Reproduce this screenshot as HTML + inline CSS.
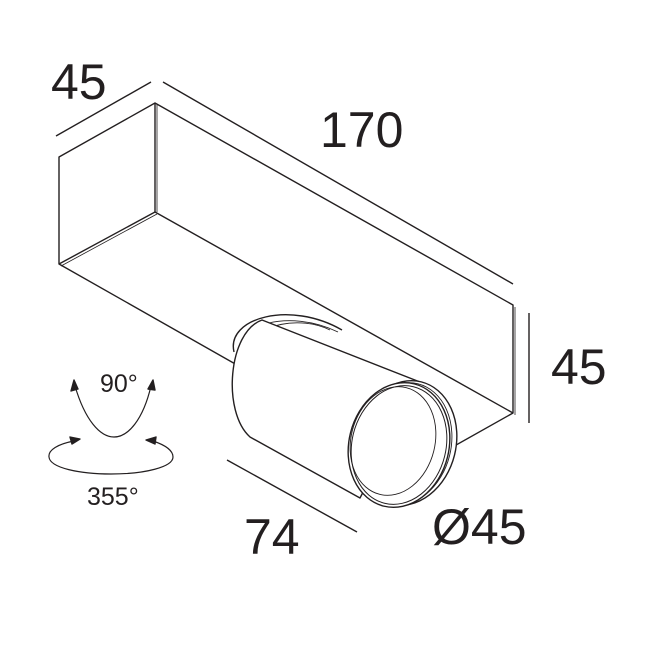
<!DOCTYPE html>
<html><head><style>
html,body{margin:0;padding:0;background:#fff;}
svg{display:block}
text{font-family:"Liberation Sans",Arial,sans-serif;fill:#231f20}
</style></head><body>
<svg width="650" height="650" viewBox="0 0 650 650" xmlns="http://www.w3.org/2000/svg">
<g fill="none" stroke="#231f20" stroke-width="1.4" stroke-linejoin="round">
<line x1="56" y1="136" x2="151" y2="82"/>
<line x1="163" y1="82" x2="513" y2="284"/>
<line x1="529" y1="313" x2="529" y2="423"/>
<line x1="227" y1="460" x2="357" y2="532"/>
<path d="M59,157 L155,103 L513,305 L513,413 L417,467 L59,264 Z" fill="#fff"/>
<line x1="155" y1="103" x2="155" y2="212"/>
<line x1="157" y1="104" x2="157" y2="212" stroke-width="0.8"/>
<line x1="59" y1="264" x2="155" y2="212"/>
<line x1="61" y1="266" x2="157" y2="214" stroke-width="0.8"/>
<line x1="155" y1="212" x2="513" y2="413"/>
<line x1="515" y1="307" x2="515" y2="415" stroke-width="0.8"/>
<path d="M234,352 C226,318 290,300 342,330" fill="#fff"/>
<path d="M240,352 C234,326 288,308 338,332" stroke-width="0.9"/>
<path d="M255,345 C255,325 300,315 330,330" stroke-width="0.9"/>
<path d="M420,382 L262,320 C228,332 222,412 250,437 L360,498 Z" fill="#fff"/>
<ellipse cx="406" cy="443" rx="50" ry="63" transform="rotate(14 406 443)" fill="#fff"/>
<ellipse cx="403" cy="444" rx="48" ry="62" transform="rotate(14 403 444)" stroke-width="0.9"/>
<ellipse cx="399" cy="445" rx="50" ry="63" transform="rotate(14 399 445)" fill="#fff"/>
<ellipse cx="399" cy="445" rx="47" ry="60" transform="rotate(14 399 445)" stroke-width="1"/>
<ellipse cx="393" cy="441" rx="42" ry="55" transform="rotate(14 393 441)" stroke-width="0.9"/>
<path d="M75,386 C85,420 100,437 114,437 C128,437 143,420 151,386" stroke-width="1.2"/>
<path d="M74,380 L71,391 L78,389 Z" fill="#231f20"/>
<path d="M153,380 L148,389 L155,390 Z" fill="#231f20"/>
<path d="M74,441 C58,444 48,450 49,457 C50,468 80,474 111,474 C145,474 173,467 173,457 C173,450 165,445 153,441" stroke-width="1.2"/>
<path d="M80,439 L70,437 L72,444 Z" fill="#231f20"/>
<path d="M146,440 L156,437 L155,444 Z" fill="#231f20"/>
</g>
<text x="51" y="99" font-size="50">45</text>
<text x="320" y="147" font-size="50">170</text>
<text x="551" y="384" font-size="50">45</text>
<text x="244" y="554" font-size="50">74</text>
<text x="432" y="544" font-size="50">Ø45</text>
<text x="100" y="392" font-size="25">90°</text>
<text x="87" y="505" font-size="25">355°</text>
</svg>
</body></html>
